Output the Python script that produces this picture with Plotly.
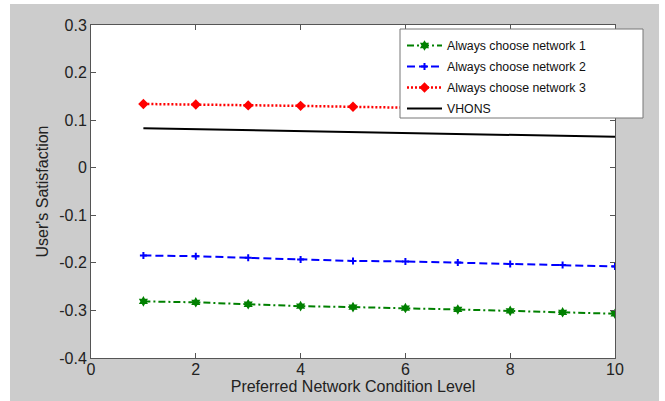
import plotly.graph_objects as go

levels = [1, 2, 3, 4, 5, 6, 7, 8, 9, 10]
net1 = [-0.281, -0.283, -0.287, -0.291, -0.293, -0.295, -0.298, -0.301, -0.304, -0.307]
net2 = [-0.1845, -0.186, -0.1895, -0.193, -0.196, -0.197, -0.1995, -0.2025, -0.2045, -0.2075]
net3 = [0.134, 0.133, 0.131, 0.130, 0.128, 0.126, 0.124, 0.122, 0.121, 0.119]
vhons = [0.083, 0.081, 0.079, 0.077, 0.075, 0.073, 0.071, 0.069, 0.067, 0.065]
names = ["Always choose network 1", "Always choose network 2", "Always choose network 3", "VHONS"]
x_ticks = [0, 2, 4, 6, 8, 10]
y_ticks = [-0.4, -0.3, -0.2, -0.1, 0, 0.1, 0.2, 0.3]

FONT = "Liberation Sans, Arial, sans-serif"

fig = go.Figure()
fig.add_trace(go.Scatter(x=levels, y=net1, name=names[0], mode="lines+markers", legendgroup="a",
                         line=dict(color="#008000", width=2, dash="7px,3px,2px,3px"),
                         marker=dict(symbol="hexagram", size=8, color="#008000")))
fig.add_trace(go.Scatter(x=levels, y=net2, name=names[1], mode="lines+markers", legendgroup="b",
                         line=dict(color="#0000ff", width=2, dash="8px,4px"),
                         marker=dict(symbol="cross-thin", size=5, color="#0000ff",
                                     line=dict(color="#0000ff", width=2))))
fig.add_trace(go.Scatter(x=levels, y=net3, name=names[2], mode="lines+markers", legendgroup="c",
                         line=dict(color="#ff0000", width=2.5, dash="2px,2px"),
                         marker=dict(symbol="diamond", size=8, color="#ff0000")))
fig.add_trace(go.Scatter(x=levels, y=vhons, name=names[3], mode="lines", legendgroup="d",
                         line=dict(color="#000000", width=2)))

axis_common = dict(showgrid=False, zeroline=False, showline=True, linecolor="#555555",
                   linewidth=1, mirror="ticks", ticks="inside", ticklen=5, automargin=False,
                   tickcolor="#555555", tickfont=dict(family=FONT, size=16, color="#222222"))

fig.update_xaxes(range=[0, 10], tickvals=x_ticks, ticktext=[str(v) for v in x_ticks],
                 ticklabelstandoff=-3,
                 title=dict(text="Preferred Network Condition Level",
                            font=dict(family=FONT, size=16, color="#222222"), standoff=0),
                 **axis_common)
fig.update_yaxes(range=[-0.4, 0.3], tickvals=y_ticks,
                 ticktext=["-0.4", "-0.3", "-0.2", "-0.1", "0", "0.1", "0.2", "0.3"],
                 title=dict(text="User's Satisfaction",
                            font=dict(family=FONT, size=16, color="#222222"), standoff=6),
                 **axis_common)

# pixel geometry of the plot area: left 91, right 615, top 25, bottom 358
fig.update_layout(
    width=665, height=401,
    margin=dict(l=91, r=50, t=25, b=43, autoexpand=False),
    paper_bgcolor="white", plot_bgcolor="white",
    showlegend=True,
    legend=dict(x=(402 - 91) / 524, y=(358 - 31) / 333, xanchor="left", yanchor="top",
                bgcolor="rgba(0,0,0,0)", borderwidth=0,
                font=dict(family=FONT, size=12.3, color="#111111"),
                itemwidth=35, tracegroupgap=2),
    shapes=[
        dict(type="rect", xref="paper", yref="paper", x0=-0.1546, x1=1.084, y0=-0.13, y1=1.063,
             fillcolor="#cccccc", line=dict(width=0), layer="below"),
        dict(type="rect", xref="paper", yref="paper", x0=0, x1=1, y0=0, y1=1,
             fillcolor="white", line=dict(width=0), layer="below"),
        dict(type="rect", xref="paper", yref="paper",
             x0=(400 - 91) / 524, x1=(643 - 91) / 524,
             y0=(358 - 118) / 333, y1=(358 - 29) / 333,
             fillcolor="white", line=dict(color="#777777", width=1), layer="above"),
    ],
)

fig.write_html("out.html", config={"displayModeBar": False},
               post_script="document.body.style.margin='0px';document.body.style.padding='0px';")
